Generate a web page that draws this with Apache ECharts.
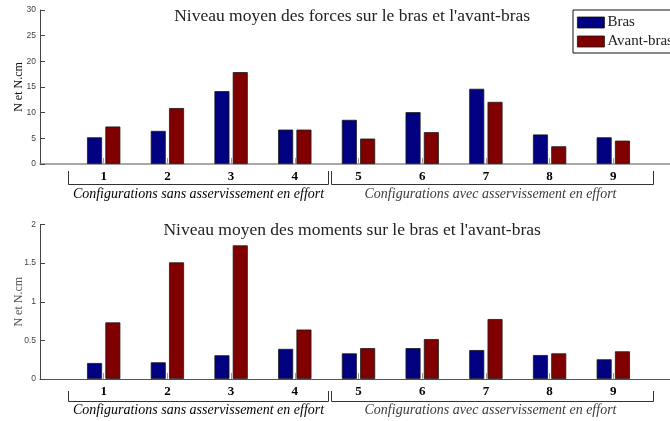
<!DOCTYPE html>
<html>
<head>
<meta charset="utf-8">
<script src="https://cdn.jsdelivr.net/npm/echarts@6/dist/echarts.min.js"></script>
<style>
  html, body { margin: 0; padding: 0; background: #fff; }
  #chart { width: 670px; height: 421px; }
</style>
</head>
<body>
<div id="chart"></div>
<script>
// Configurations 1..9
const categories = ['1', '2', '3', '4', '5', '6', '7', '8', '9'];

// Mean force level (N)
const forcesBras      = [5.2, 6.45, 14.2, 6.7, 8.6, 10.1, 14.65, 5.75, 5.2];
const forcesAvantBras = [7.3, 10.9, 17.9, 6.7, 4.95, 6.2, 12.1, 3.45, 4.55];

// Mean moment level (N.cm)
const momentsBras      = [0.207, 0.216, 0.307, 0.39, 0.332, 0.40, 0.375, 0.31, 0.255];
const momentsAvantBras = [0.733, 1.51, 1.73, 0.64, 0.40, 0.517, 0.776, 0.332, 0.358];

// Y-axis ticks
const forceTicks = [0, 5, 10, 15, 20, 25, 30];
const momentTicks = [0, 0.5, 1, 1.5, 2];

const titles = [
  "Niveau moyen des forces sur le bras et l'avant-bras",
  "Niveau moyen des moments sur le bras et l'avant-bras"
];
const groupLabels = [
  'Configurations sans asservissement en effort',
  'Configurations avec asservissement en effort'
];
// bracket extents, in x-axis units (the axis runs 0..10)
const groupFrom = [0.44, 4.57];
const groupTo = [4.52, 9.62];

const seriesNames = ['Bras', 'Avant-bras'];
const colors = ['#000080', '#800000'];

const SERIF = '"Liberation Serif", "DejaVu Serif", serif';
const SANS = '"Liberation Sans", "DejaVu Sans", sans-serif';

// the axis holds an empty slot at 0 and at 10 around the nine configurations
const axisCats = [''].concat(categories, ['']);
const pad = v => [null].concat(v, [null]);

const chart = echarts.init(document.getElementById('chart'), null, { renderer: 'canvas' });

// the plot area runs a little past the right edge of the figure
const grids = [
  { left: 40, right: -7, top: 10, bottom: 257, outerBoundsMode: 'none', containLabel: false },
  { left: 40, right: -7, top: 224.5, bottom: 42, outerBoundsMode: 'none', containLabel: false }
];

function xAxisFor(i, lineColor) {
  return {
    type: 'category', gridIndex: i, data: axisCats, boundaryGap: false,
    axisLine: { lineStyle: { color: lineColor, width: i === 0 ? 1.6 : 1 } },
    axisTick: {
      inside: true, length: 6, interval: (idx) => idx > 0 && idx < 10,
      lineStyle: { color: '#9a9a9a', width: 1 }
    },
    axisLabel: {
      margin: 6, interval: 0, hideOverlap: false,
      fontFamily: SERIF, fontWeight: 'bold', fontSize: 13, color: '#000'
    },
    splitLine: { show: false }
  };
}

function yAxisFor(i, ticks, nameColor) {
  return {
    type: 'value', gridIndex: i, min: ticks[0], max: ticks[ticks.length - 1],
    interval: ticks[1] - ticks[0],
    name: 'N et N.cm', nameLocation: 'middle', nameGap: 15, nameRotate: 90,
    nameMoveOverlap: false,
    nameTextStyle: { fontFamily: SERIF, fontSize: 12, color: nameColor },
    axisLine: { show: true, lineStyle: { color: '#444', width: 1 } },
    axisTick: { show: true, inside: true, length: 5, lineStyle: { color: '#444' } },
    axisLabel: { margin: 4, fontFamily: SANS, fontSize: 8.5, color: '#444' },
    splitLine: { show: false }
  };
}

function barSeries(name, values, axisIdx, color) {
  return {
    name: name, type: 'bar', xAxisIndex: axisIdx, yAxisIndex: axisIdx,
    data: pad(values), barWidth: 15, barGap: '22%',
    itemStyle: { color: color, borderColor: '#1a1a1a', borderWidth: 0.8 },
    emphasis: { disabled: true },
    animation: false
  };
}

chart.setOption({
  animation: false,
  backgroundColor: '#fff',
  grid: grids,
  xAxis: [xAxisFor(0, '#8c8c8c'), xAxisFor(1, '#555')],
  yAxis: [yAxisFor(0, forceTicks, '#111'), yAxisFor(1, momentTicks, '#555')],
  legend: {
    data: seriesNames, left: 573, top: 10, orient: 'vertical',
    icon: 'rect', itemWidth: 27, itemHeight: 11, itemGap: 4,
    padding: [5, 8, 4, 4],
    backgroundColor: '#fff', borderColor: '#111', borderWidth: 1,
    textStyle: { fontFamily: SERIF, fontSize: 15, color: '#222', padding: [0, 0, 0, -2] },
    itemStyle: { borderColor: '#111', borderWidth: 0.8 }
  },
  series: [
    barSeries(seriesNames[0], forcesBras, 0, colors[0]),
    barSeries(seriesNames[1], forcesAvantBras, 0, colors[1]),
    barSeries(seriesNames[0], momentsBras, 1, colors[0]),
    barSeries(seriesNames[1], momentsAvantBras, 1, colors[1])
  ]
});

// Titles, group brackets and their captions, placed from the axes' own scales
function px(axisIdx, x, y) {
  return chart.convertToPixel({ xAxisIndex: axisIdx, yAxisIndex: axisIdx }, [x, y]);
}
const bracketOffsets = [[7, 20], [12, 21.5]];
const captionOffsets = [30, 31];
const captionColors = [['#000', '#3a3a3a'], ['#000', '#3a3a3a']];
const graphics = [];
for (let a = 0; a < 2; a++) {
  const p0 = px(a, 0, 0);
  const p10 = px(a, 10, 0);
  const top = px(a, 0, a === 0 ? forceTicks[forceTicks.length - 1] : momentTicks[momentTicks.length - 1]);
  const unit = (p10[0] - p0[0]) / 10;
  const baseY = p0[1];
  graphics.push({
    type: 'text', silent: true,
    x: p0[0] + unit * 4.9, y: top[1] + 6,
    style: {
      text: titles[a], fill: '#222', font: '17.5px ' + SERIF,
      align: 'center', verticalAlign: 'middle'
    }
  });
  for (let g = 0; g < 2; g++) {
    const x1 = Math.round(p0[0] + unit * groupFrom[g]) + 0.5;
    const x2 = Math.round(p0[0] + unit * groupTo[g]) + 0.5;
    const y1 = baseY + bracketOffsets[a][0];
    const y2 = Math.round(baseY + bracketOffsets[a][1]) + 0.5;
    graphics.push({
      type: 'polyline', silent: true,
      shape: { points: [[x1, y1], [x1, y2], [x2, y2], [x2, y1]] },
      style: { stroke: '#333', lineWidth: 1, fill: null }
    });
    graphics.push({
      type: 'text', silent: true,
      x: (x1 + x2) / 2 + (g === 0 ? 0 : -2), y: baseY + captionOffsets[a],
      style: {
        text: groupLabels[g], fill: captionColors[a][g],
        font: 'italic 14px ' + SERIF, align: 'center', verticalAlign: 'middle'
      }
    });
  }
}
chart.setOption({ graphic: graphics });
</script>
</body>
</html>
